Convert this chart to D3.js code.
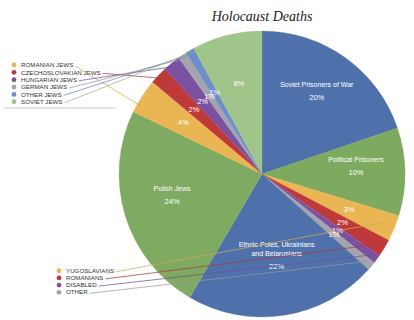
<!DOCTYPE html>
<html>
<head>
<meta charset="utf-8">
<script src="https://cdn.jsdelivr.net/npm/d3@7"></script>
<style>
  body { margin: 0; background: #fff; }
  text { font-family: "Liberation Sans", Arial, sans-serif; }
</style>
</head>
<body>
<script>
// slices, clockwise from 12 o'clock
const categories = [
  'Soviet Prisoners of War', 'Political Prisoners', 'Yugoslavians', 'Romanians',
  'Disabled', 'Other', 'Ethnic Poles, Ukrainians and Belarusians', 'Polish Jews',
  'Romanian Jews', 'Czechoslovakian Jews', 'Hungarian Jews', 'German Jews',
  'Other Jews', 'Soviet Jews'
];
const values = [20, 10, 3, 2, 1, 1, 22, 24, 4, 2, 2, 1, 1, 8];
const percentLabels = ['20%', '10%', '3%', '2%', '1%', '1%', '22%', '24%', '4%', '2%', '2%', '1%', '1%', '8%'];
// names printed inside the big slices
const sliceNames = [
  ['Soviet Prisoners of War'], ['Political Prisoners'], [], [], [], [],
  ['Ethnic Poles, Ukrainians', 'and Belarusians'], ['Polish Jews'], [], [], [], [], [], []
];
const topLegend = ['Romanian Jews', 'Czechoslovakian Jews', 'Hungarian Jews', 'German Jews', 'Other Jews', 'Soviet Jews'];
const bottomLegend = ['Yugoslavians', 'Romanians', 'Disabled', 'Other'];
const legendNames = {
  'Romanian Jews': 'ROMANIAN JEWS', 'Czechoslovakian Jews': 'CZECHOSLOVAKIAN JEWS',
  'Hungarian Jews': 'HUNGARIAN JEWS', 'German Jews': 'GERMAN JEWS',
  'Other Jews': 'OTHER JEWS', 'Soviet Jews': 'SOVIET JEWS',
  'Yugoslavians': 'YUGOSLAVIANS', 'Romanians': 'ROMANIANS',
  'Disabled': 'DISABLED', 'Other': 'OTHER'
};

const palette = ['#4e71ab', '#7daa5e', '#eab553', '#c0393a', '#7c52a0', '#a4a4ad',
  '#4e71ab', '#7faa62', '#eab553', '#c0393a', '#7c52a0', '#a4a4ad', '#6e8fcb', '#9fc58a'];

const W = 414, H = 320;
const cx = 262, cy = 174, R = 143;

const color = d3.scaleOrdinal().domain(categories).range(palette);

const svg = d3.select('body').append('svg')
  .attr('width', W).attr('height', H);

// TITLE
svg.append('text')
  .attr('x', cx).attr('y', 21)
  .attr('text-anchor', 'middle')
  .style('font-family', '"Liberation Serif", serif')
  .style('font-style', 'italic')
  .style('font-size', '14px')
  .attr('fill', '#222')
  .text('Holocaust Deaths');

// PIE
const pie = d3.pie().sort(null).value(d => d.v);
const arcs = pie(categories.map((c, i) => ({ c, v: values[i], i })));
const byName = {};
arcs.forEach(a => { byName[a.data.c] = a; });

const arc = d3.arc().innerRadius(0).outerRadius(R);
const labelArc = d3.arc().innerRadius(94).outerRadius(94);

const g = svg.append('g').attr('transform', 'translate(' + cx + ',' + cy + ')');

g.selectAll('path.slice')
  .data(arcs)
  .enter()
  .append('path')
  .attr('class', 'slice')
  .attr('d', arc)
  .attr('fill', d => color(d.data.c))
  .attr('stroke', d => color(d.data.c))
  .attr('stroke-width', 0.3);

// percent labels
g.selectAll('text.pct')
  .data(arcs)
  .enter()
  .append('text')
  .attr('class', 'pct')
  .attr('transform', d => 'translate(' + labelArc.centroid(d) + ')')
  .attr('text-anchor', 'middle')
  .attr('dy', '0.35em')
  .attr('fill', '#fff')
  .style('font-size', '7.5px')
  .text(d => percentLabels[d.data.i]);

// slice names above the percent
arcs.forEach(d => {
  const lines = sliceNames[d.data.i];
  const p = labelArc.centroid(d);
  lines.forEach((t, k) => {
    g.append('text')
      .attr('x', p[0])
      .attr('y', p[1] - 13 - (lines.length - 1 - k) * 9)
      .attr('text-anchor', 'middle')
      .attr('dy', '0.35em')
      .attr('fill', '#fff')
      .style('font-size', '7px')
      .text(t);
  });
});

// LEGENDS + LEADER LINES

function anchorPoint(a, rr) {
  const w = a.endAngle - a.startAngle;
  const ang = a.startAngle + Math.min(w / 2, 0.06);
  return [cx + Math.sin(ang) * rr, cy - Math.cos(ang) * rr];
}

function drawLegend(names, x0, y0, step, rr) {
  const y = d3.scaleLinear().domain([0, 1]).range([y0, y0 + step]);
  const lg = svg.append('g');
  names.forEach((n, i) => {
    const yy = y(i);
    lg.append('circle')
      .attr('cx', x0).attr('cy', yy).attr('r', 2.4)
      .attr('fill', color(n));
    const t = lg.append('text')
      .attr('x', x0 + 7).attr('y', yy)
      .attr('dy', '0.35em')
      .attr('fill', '#333')
      .style('font-size', '6.2px')
      .text(legendNames[n]);
    const end = x0 + 7 + t.node().getComputedTextLength() + 2;
    const p = anchorPoint(byName[n], rr);
    svg.append('line')
      .attr('x1', end).attr('y1', yy + 1)
      .attr('x2', p[0]).attr('y2', p[1])
      .attr('stroke', d3.color(color(n)).darker(0.2))
      .attr('stroke-width', 0.8)
      .attr('opacity', 0.9);
  });
}

drawLegend(topLegend, 14, 65, 7.35, 139);
drawLegend(bottomLegend, 59, 270.7, 7.2, 136);

// rule under top legend
svg.append('line')
  .attr('x1', 4).attr('x2', 116)
  .attr('y1', 108).attr('y2', 108)
  .attr('stroke', '#bbb')
  .attr('stroke-width', 0.8);
</script>
</body>
</html>
